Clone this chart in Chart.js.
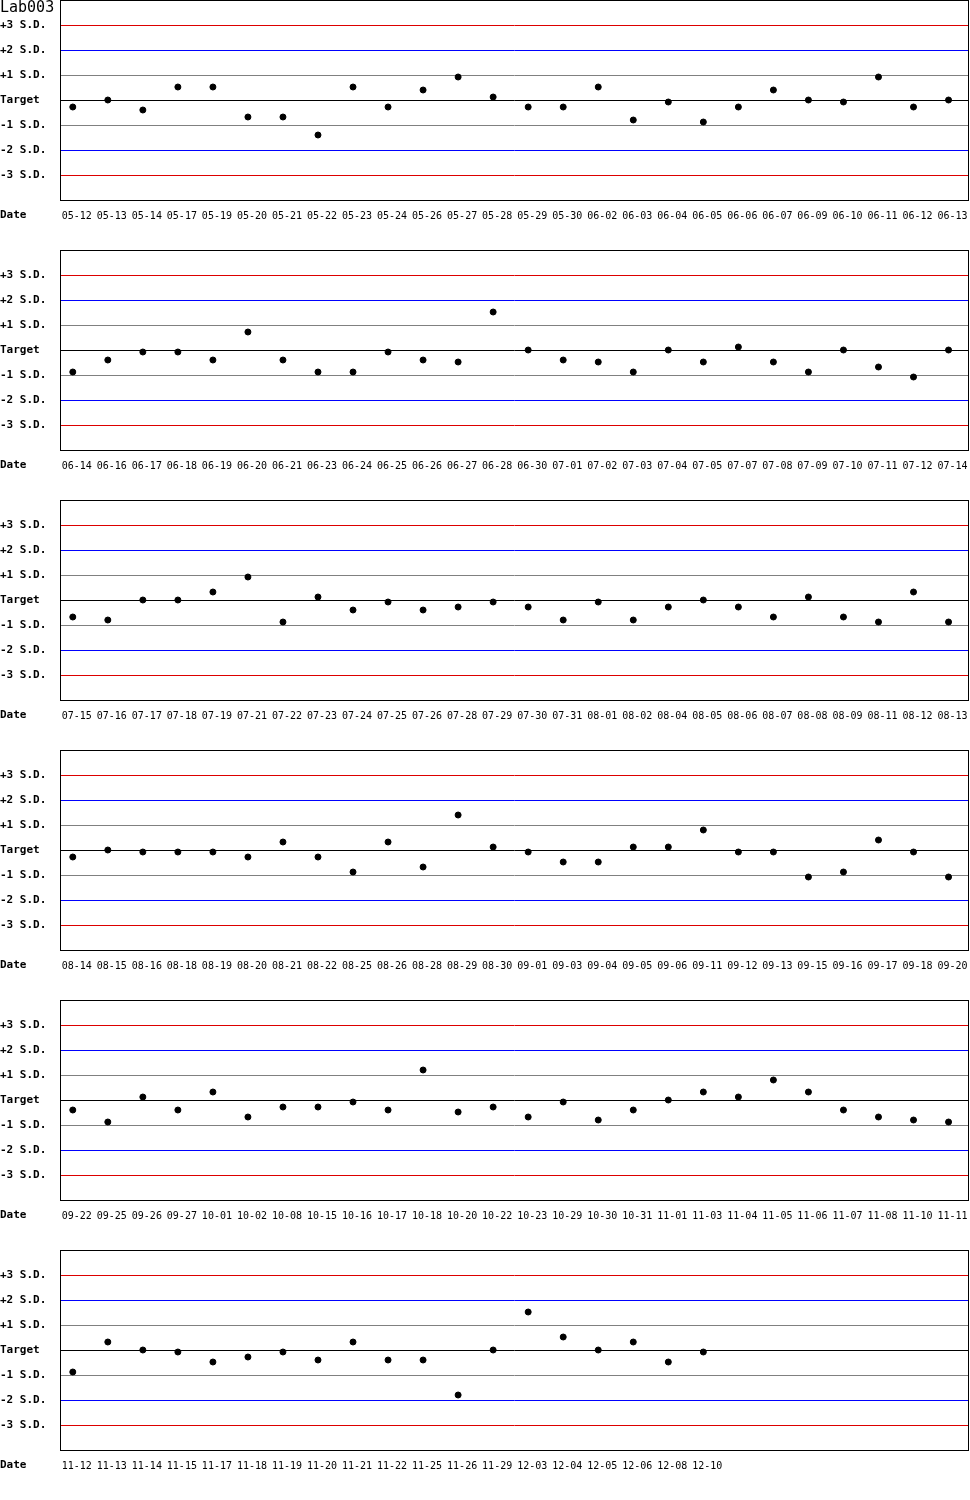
<!DOCTYPE html>
<html>
<head>
<meta charset="utf-8">
<script src="https://cdn.jsdelivr.net/npm/chart.js@4/dist/chart.umd.min.js"></script>
<style>
  body { margin: 0; background: #fff; }
  .panel { position: relative; width: 970px; height: 250px; overflow: hidden; }
  .panel canvas { position: absolute; left: 0; top: -4px; }
</style>
</head>
<body>
<div id="wrap"></div>
<script>
// data: dates per row and deviation from target (in S.D.)
const dates1 = ["05-12","05-13","05-14","05-17","05-19","05-20","05-21","05-22","05-23","05-24","05-26","05-27","05-28","05-29","05-30","06-02","06-03","06-04","06-05","06-06","06-07","06-09","06-10","06-11","06-12","06-13"];
const values1 = [-0.28,0,-0.4,0.52,0.52,-0.68,-0.68,-1.4,0.52,-0.28,0.4,0.92,0.12,-0.28,-0.28,0.52,-0.8,-0.08,-0.88,-0.28,0.4,0,-0.08,0.92,-0.28,0];

const dates2 = ["06-14","06-16","06-17","06-18","06-19","06-20","06-21","06-23","06-24","06-25","06-26","06-27","06-28","06-30","07-01","07-02","07-03","07-04","07-05","07-07","07-08","07-09","07-10","07-11","07-12","07-14"];
const values2 = [-0.88,-0.4,-0.08,-0.08,-0.4,0.72,-0.4,-0.88,-0.88,-0.08,-0.4,-0.48,1.52,0,-0.4,-0.48,-0.88,0,-0.48,0.12,-0.48,-0.88,0,-0.68,-1.08,0];

const dates3 = ["07-15","07-16","07-17","07-18","07-19","07-21","07-22","07-23","07-24","07-25","07-26","07-28","07-29","07-30","07-31","08-01","08-02","08-04","08-05","08-06","08-07","08-08","08-09","08-11","08-12","08-13"];
const values3 = [-0.68,-0.8,0,0,0.32,0.92,-0.88,0.12,-0.4,-0.08,-0.4,-0.28,-0.08,-0.28,-0.8,-0.08,-0.8,-0.28,0,-0.28,-0.68,0.12,-0.68,-0.88,0.32,-0.88];

const dates4 = ["08-14","08-15","08-16","08-18","08-19","08-20","08-21","08-22","08-25","08-26","08-28","08-29","08-30","09-01","09-03","09-04","09-05","09-06","09-11","09-12","09-13","09-15","09-16","09-17","09-18","09-20"];
const values4 = [-0.28,0,-0.08,-0.08,-0.08,-0.28,0.32,-0.28,-0.88,0.32,-0.68,1.4,0.12,-0.08,-0.48,-0.48,0.12,0.12,0.8,-0.08,-0.08,-1.08,-0.88,0.4,-0.08,-1.08];

const dates5 = ["09-22","09-25","09-26","09-27","10-01","10-02","10-08","10-15","10-16","10-17","10-18","10-20","10-22","10-23","10-29","10-30","10-31","11-01","11-03","11-04","11-05","11-06","11-07","11-08","11-10","11-11"];
const values5 = [-0.4,-0.88,0.12,-0.4,0.32,-0.68,-0.28,-0.28,-0.08,-0.4,1.2,-0.48,-0.28,-0.68,-0.08,-0.8,-0.4,0,0.32,0.12,0.8,0.32,-0.4,-0.68,-0.8,-0.88];

const dates6 = ["11-12","11-13","11-14","11-15","11-17","11-18","11-19","11-20","11-21","11-22","11-25","11-26","11-29","12-03","12-04","12-05","12-06","12-08","12-10"];
const values6 = [-0.88,0.32,0,-0.08,-0.48,-0.28,-0.08,-0.4,0.32,-0.4,-0.4,-1.8,0,1.52,0.52,0,0.32,-0.48,-0.08];

const yTicks = [3, 2, 1, 0, -1, -2, -3];
const yTickLabels = ["+3 S.D.", "+2 S.D.", "+1 S.D.", "Target", "-1 S.D.", "-2 S.D.", "-3 S.D."];

const rows = [
  [dates1, values1], [dates2, values2], [dates3, values3],
  [dates4, values4], [dates5, values5], [dates6, values6]
];

const MONO = "'DejaVu Sans Mono', monospace";

function lineColor(v) {
  if (Math.abs(v) === 3) return "#dd0000";
  if (Math.abs(v) === 2) return "#0000ff";
  if (Math.abs(v) === 1) return "#808080";
  if (v === 0) return "#000000";
  return "rgba(0,0,0,0)";
}

// frame around plot + "Date" / title text
const framePlugin = {
  id: "frame",
  afterDraw(chart, args, opts) {
    const { ctx, chartArea: a } = chart;
    ctx.save();
    ctx.strokeStyle = "#000";
    ctx.lineWidth = 1;
    ctx.strokeRect(a.left + 0.5, a.top + 0.5, a.right - a.left - 1, a.bottom - a.top);
    ctx.fillStyle = "#000";
    ctx.textBaseline = "middle";
    ctx.textAlign = "left";
    ctx.font = "bold 11px " + MONO;
    ctx.fillText("Date", 0, a.bottom + 15);
    if (opts.title) {
      ctx.font = "15px " + MONO;
      ctx.fillText(opts.title, 0, a.top + 8);
    }
    ctx.restore();
  }
};

// the points' overflow (4px) pads the chart top/right, so the canvas
// is a bit bigger and shifted up by that much
const wrap = document.getElementById("wrap");
rows.forEach(([dates, values], r) => {
  const div = document.createElement("div");
  div.className = "panel";
  const cv = document.createElement("canvas");
  cv.width = 973;
  cv.height = 254;
  cv.style.width = "973px";
  cv.style.height = "254px";
  div.appendChild(cv);
  wrap.appendChild(div);

  new Chart(cv, {
    type: "scatter",
    data: {
      datasets: [{
        data: values.map((v, i) => ({ x: i, y: v })),
        backgroundColor: "#000",
        borderColor: "#000",
        borderWidth: 1,
        pointRadius: 3,
        pointHoverRadius: 3
      }]
    },
    options: {
      responsive: false,
      animation: false,
      events: [],
      layout: { padding: 0 },
      plugins: {
        legend: { display: false },
        tooltip: { enabled: false },
        frame: { title: r === 0 ? "Lab003" : "" }
      },
      scales: {
        x: {
          type: "linear",
          min: -0.365,
          max: 25.584,
          border: { display: false },
          grid: { display: false, drawTicks: false },
          afterFit(s) { s.height = 50; s.paddingLeft = 0; s.paddingRight = 0; },
          ticks: {
            stepSize: 1,
            includeBounds: false,
            autoSkip: false,
            maxRotation: 0,
            maxTicksLimit: 40,
            padding: 10,
            labelOffset: 4,
            color: "#000",
            font: { family: MONO, size: 10 },
            callback: v => Number.isInteger(v) && dates[v] ? dates[v] : ""
          }
        },
        y: {
          min: -4,
          max: 4,
          border: { display: false },
          afterFit(s) { s.width = 60; s.paddingTop = 0; s.paddingBottom = 0; },
          grid: {
            drawTicks: false,
            lineWidth: 1,
            color: c => lineColor(c.tick.value)
          },
          ticks: {
            stepSize: 1,
            crossAlign: "far",
            color: "#000",
            font: { family: MONO, size: 11, weight: "bold" },
            callback: v => {
              const k = yTicks.indexOf(v);
              return k >= 0 ? yTickLabels[k] : "";
            }
          }
        }
      }
    },
    plugins: [framePlugin]
  });
});
</script>
</body>
</html>
